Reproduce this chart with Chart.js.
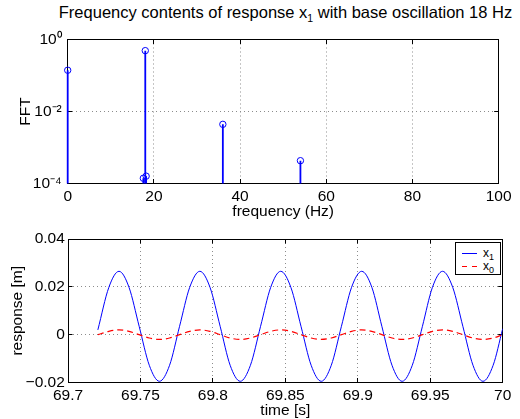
<!DOCTYPE html>
<html>
<head>
<meta charset="utf-8">
<script src="https://cdn.jsdelivr.net/npm/chart.js@4.4.1/dist/chart.umd.min.js"></script>
<style>
  body { margin: 0; width: 520px; height: 419px; background: #fff; position: relative; overflow: hidden;
         font-family: "Liberation Sans", Arial, sans-serif; color: #000; }
  canvas { position: absolute; left: 0; }
  #fft { top: 0; }
  #resp { top: 222px; }
  #title { position: absolute; left: 50px; width: 471px; top: 3px; text-align: center; font-size: 16.5px; line-height: 18px; }
  #title sub { font-size: 10.5px; vertical-align: -4px; line-height: 0; }
  #legend sub { font-size: 9px; vertical-align: -3px; line-height: 0; }
  #legend { position: absolute; left: 455px; top: 242px; width: 44px; height: 31px; border: 1px solid #000; background: #fff; font-size: 12px; }
  #legend .row { position: absolute; left: 0; height: 14px; line-height: 14px; }
  #legend .sw { position: absolute; left: 6px; top: 7px; width: 15px; height: 1px; }
  #legend .txt { position: absolute; left: 27px; top: 0; }
</style>
</head>
<body>
<div id="title">Frequency contents of response x<sub>1</sub> with base oscillation 18 Hz</div>
<canvas id="fft" width="520" height="222"></canvas>
<canvas id="resp" width="520" height="197"></canvas>
<div id="legend">
  <div class="row" style="top:3px"><span class="sw" style="background:#0000ff"></span><span class="txt">x<sub>1</sub></span></div>
  <div class="row" style="top:16px"><span class="sw" style="background:repeating-linear-gradient(to right,#ff0000 0 5px,transparent 5px 10px)"></span><span class="txt">x<sub>0</sub></span></div>
</div>
<script>
// spectrum (top plot)
const freqHz = [0, 17.55, 18.0, 18.2, 36.0, 54.0];
const fftAmp = [0.14, 0.00014, 0.49, 0.00016, 0.0044, 0.00043];
const freqTicks = [0, 20, 40, 60, 80, 100];
const fftTicks = [1e-4, 1e-2, 1];
const fftTickLabels = ['10\u207B\u2074', '10\u207B\u00B2', '10\u2070'];

// time response (bottom plot)
const timeS = [69.7206, 69.7282, 69.7352, 69.7421, 69.7491, 69.7561, 69.7631, 69.7701, 69.7770, 69.7840,
               69.7910, 69.7980, 69.8050, 69.8119, 69.8189, 69.8259, 69.8329, 69.8399, 69.8468, 69.8538,
               69.8608, 69.8678, 69.8748, 69.8817, 69.8887, 69.8957, 69.9027, 69.9097, 69.9166, 69.9236,
               69.9306, 69.9376, 69.9446, 69.9515, 69.9585, 69.9655, 69.9725, 69.9795, 69.9864, 69.9934, 70.0];
const x1 = [0.002, 0.0198, 0.0265, 0.0198, 0.0035, -0.0128, -0.0195, -0.0128,
            0.0035, 0.0198, 0.0265, 0.0198, 0.0035, -0.0128, -0.0195, -0.0128,
            0.0035, 0.0198, 0.0265, 0.0198, 0.0035, -0.0128, -0.0195, -0.0128,
            0.0035, 0.0198, 0.0265, 0.0198, 0.0035, -0.0128, -0.0195, -0.0128,
            0.0035, 0.0198, 0.0265, 0.0198, 0.0035, -0.0128, -0.0195, -0.0128, 0.0025];
const x0 = [0, 0.0014, 0.002, 0.0014, 0, -0.0014, -0.002, -0.0014,
            0, 0.0014, 0.002, 0.0014, 0, -0.0014, -0.002, -0.0014,
            0, 0.0014, 0.002, 0.0014, 0, -0.0014, -0.002, -0.0014,
            0, 0.0014, 0.002, 0.0014, 0, -0.0014, -0.002, -0.0014,
            0, 0.0014, 0.002, 0.0014, 0, -0.0014, -0.002, -0.0014, 0];
const timeTicks = [69.7, 69.75, 69.8, 69.85, 69.9, 69.95, 70];
const timeTickLabels = ['69.7', '69.75', '69.8', '69.85', '69.9', '69.95', '70'];
const respTicks = [-0.02, 0, 0.02, 0.04];
const respTickLabels = ['\u22120.02', '0', '0.02', '0.04'];

const FONT = { family: '"Liberation Sans", Arial, sans-serif', size: 15.5 };
const TICK_IN = -4.5;

function fixTicks(values) {
    return scale => { scale.ticks = values.map(v => ({ value: v })); };
}
function labelFrom(values, labels) {
    return v => {
        let i = values.findIndex(t => Math.abs(t - v) < 1e-9 * Math.max(1, Math.abs(t)));
        return i < 0 ? '' : labels[i];
    };
}
// dotted grid, hidden on the box edges
function gridColor(min, max) {
    return c => {
        if (!c.tick) return 'rgba(0,0,0,0)';
        let v = c.tick.value;
        return (Math.abs(v - min) < 1e-9 || Math.abs(v - max) < 1e-9) ? 'rgba(0,0,0,0)' : '#8c8c8c';
    };
}

// main axis (with labels, grid and inward ticks)
function mainAxis(pos, type, min, max, ticks, labels, size, title, titlePad, tickPad) {
    return {
        type: type, position: pos, min: min, max: max,
        afterBuildTicks: fixTicks(ticks),
        afterFit: s => { if (pos === 'bottom') s.height = size; else s.width = size; },
        grid: { color: gridColor(min, max), lineWidth: 1, tickLength: TICK_IN, tickColor: '#000', tickWidth: 1 },
        border: { color: '#000', width: 1, dash: [1, 3] },
        ticks: { callback: labelFrom(ticks, labels), font: FONT, color: '#000', padding: tickPad,
                 maxRotation: 0, autoSkip: false },
        title: { display: true, text: title, font: FONT, color: '#000', padding: titlePad }
    };
}
// opposite side of the box: only the line and inward ticks
function frameAxis(pos, type, min, max, ticks) {
    return {
        type: type, position: pos, min: min, max: max,
        afterBuildTicks: fixTicks(ticks),
        afterFit: s => { if (pos === 'top') s.height = 0; else s.width = 0; },
        grid: { drawOnChartArea: false, tickLength: TICK_IN, tickColor: '#000', tickWidth: 1 },
        border: { color: '#000', width: 1 },
        ticks: { display: false }
    };
}

// stems built from the spectrum arrays
let stemPts = [];
freqHz.forEach((f, i) => {
    stemPts.push({ x: f, y: 1e-6 }, { x: f, y: fftAmp[i] }, { x: f, y: null });
});

new Chart(document.getElementById('fft'), {
    type: 'line',
    data: {
        datasets: [{
            data: freqHz.map((f, i) => ({ x: f, y: fftAmp[i] })),
            showLine: false, pointStyle: 'circle', pointRadius: 3.2,
            pointBorderColor: '#0000ff', pointBackgroundColor: 'rgba(0,0,0,0)', pointBorderWidth: 1,
            clip: false
        }, {
            data: stemPts,
            borderColor: '#0000ff', borderWidth: 1.8, pointRadius: 0, spanGaps: false, tension: 0,
            clip: { left: 2, top: 0, right: 0, bottom: 0 }
        }]
    },
    options: {
        responsive: false, animation: false, events: [],
        layout: { padding: { left: 0, right: 17.3, top: 39.5, bottom: 0 } },
        plugins: { legend: { display: false }, tooltip: { enabled: false } },
        scales: {
            x: mainAxis('bottom', 'linear', 0, 100, freqTicks, freqTicks.map(String), 38.5,
                        'frequency (Hz)', { top: 0, bottom: 0.7 }, 8.4),
            y: mainAxis('left', 'logarithmic', 1e-4, 1, fftTicks, fftTickLabels, 67.7,
                        'FFT', { top: 16.7, bottom: 0 }, 10.5),
            xTop: frameAxis('top', 'linear', 0, 100, freqTicks),
            yRight: frameAxis('right', 'logarithmic', 1e-4, 1, fftTicks)
        }
    }
});

new Chart(document.getElementById('resp'), {
    type: 'line',
    data: {
        datasets: [{
            data: timeS.map((t, i) => ({ x: t, y: x0[i] })),
            borderColor: '#ff0000', borderWidth: 1.2, borderDash: [6, 4], pointRadius: 0,
            cubicInterpolationMode: 'monotone'
        }, {
            data: timeS.map((t, i) => ({ x: t, y: x1[i] })),
            borderColor: '#0000ff', borderWidth: 1, pointRadius: 0,
            cubicInterpolationMode: 'monotone'
        }]
    },
    options: {
        responsive: false, animation: false, events: [],
        layout: { padding: { left: 0, right: 17.3, top: 16.3, bottom: 0 } },
        plugins: { legend: { display: false }, tooltip: { enabled: false } },
        scales: {
            x: mainAxis('bottom', 'linear', 69.7, 70, timeTicks, timeTickLabels, 36.5,
                        'time [s]', { top: 0, bottom: -1 }, 8.1),
            y: mainAxis('left', 'linear', -0.02, 0.04, respTicks, respTickLabels, 68,
                        'response [m]', { top: 8.2, bottom: 0 }, 7.7),
            xTop: frameAxis('top', 'linear', 69.7, 70, timeTicks),
            yRight: frameAxis('right', 'linear', -0.02, 0.04, respTicks)
        }
    }
});
</script>
</body>
</html>
